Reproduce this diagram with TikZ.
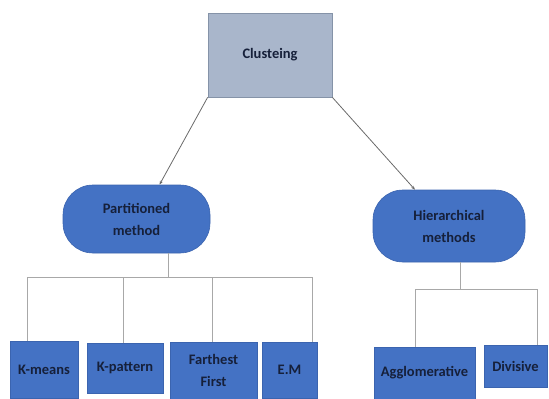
\documentclass[tikz,border=0pt]{standalone}
\usepackage{fontspec}
\setmainfont{Carlito}
\usetikzlibrary{arrows.meta}
\definecolor{boxblue}{HTML}{4472C4}
\definecolor{boxedge}{HTML}{3B64AF}
\definecolor{topfill}{HTML}{A9B6CB}
\definecolor{topedge}{HTML}{8593A8}
\definecolor{txt}{HTML}{16203A}
\definecolor{conn}{HTML}{A8A8A8}
\definecolor{arr}{HTML}{6A6A6A}
\tikzset{
  lbl/.style={font=\fontsize{14.5}{22}\selectfont\bfseries, text=txt, align=center, inner sep=0pt},
  topbox/.style={lbl, draw=topedge, fill=topfill, line width=0.8pt},
  pill/.style={lbl, draw=boxedge, fill=boxblue, rounded corners=30pt, line width=0.6pt},
  leaf/.style={lbl, draw=boxedge, fill=boxblue, line width=0.6pt},
  bus/.style={draw=conn, line width=0.9pt},
  arrowline/.style={draw=arr, line width=0.8pt, -{Stealth[length=4pt,width=3pt]}}
}
\begin{document}
\begin{tikzpicture}[x=1pt,y=-1pt]
\useasboundingbox (0,0) rectangle (549,399);
\node[topbox, minimum width=124pt, minimum height=84pt] (top) at (270,55) {Clusteing};
\node[pill, minimum width=147pt, minimum height=68pt] (pm) at (136.5,219) {Partitioned\\method};
\node[pill, minimum width=152pt, minimum height=72pt] (hm) at (449,226) {Hierarchical\\methods};
\node[leaf, minimum width=68pt, minimum height=57pt] (km) at (44,369.5) {K-means};
\node[leaf, minimum width=76pt, minimum height=50pt] (kp) at (125,368) {K-pattern};
\node[leaf, minimum width=87pt, minimum height=57pt] (ff) at (213.5,370.5) {Farthest\\First};
\node[leaf, minimum width=55pt, minimum height=56pt] (em) at (289.5,370) {E.M};
\node[leaf, minimum width=101pt, minimum height=52pt] (ag) at (424.5,373) {Agglomerative};
\node[leaf, minimum width=63pt, minimum height=42pt] (dv) at (515.5,366) {Divisive};
\coordinate (pbus) at (0,277);
\coordinate (hbus) at (0,289);
% arrows from top
\draw[arrowline] (top.south west) -- ([xshift=23pt]pm.north);
\draw[arrowline] (top.south east) -- ([xshift=-34pt]hm.north);
% partitioned bus
\draw[bus] ([xshift=31.5pt]pm.south) -- ([xshift=31.5pt]pm.south |- pbus);
\draw[bus] ([xshift=-17pt]km.north) -- ([xshift=-17pt]km.north |- pbus) -- ([xshift=22.5pt]em.north |- pbus) -- ([xshift=22.5pt]em.north);
\draw[bus] ([xshift=-2pt]kp.north) -- ([xshift=-2pt]kp.north |- pbus);
\draw[bus] ([xshift=-1.5pt]ff.north) -- ([xshift=-1.5pt]ff.north |- pbus);
% hierarchical bus
\draw[bus] ([xshift=11pt]hm.south) -- ([xshift=11pt]hm.south |- hbus);
\draw[bus] ([xshift=-9.5pt]ag.north) -- ([xshift=-9.5pt]ag.north |- hbus) -- ([xshift=21.5pt]dv.north |- hbus) -- ([xshift=21.5pt]dv.north);
\end{tikzpicture}
\end{document}
